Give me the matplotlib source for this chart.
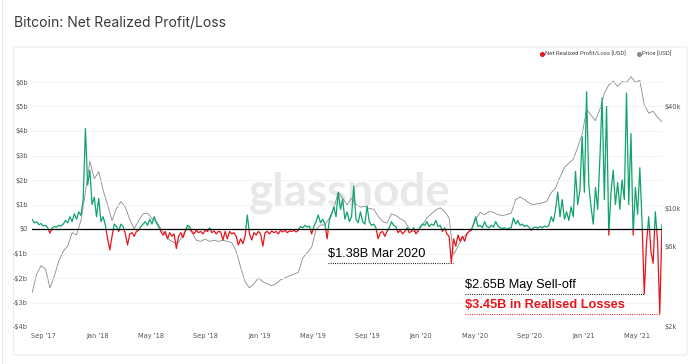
import numpy as np
import pandas as pd
import matplotlib
matplotlib.use("Agg")
import matplotlib.pyplot as plt
import matplotlib.dates as mdates
import matplotlib.transforms as mtransforms
from matplotlib.patches import Rectangle, FancyBboxPatch
from matplotlib.lines import Line2D

# ---------------- data ----------------
nrpl_start = "2017-08-07"   # 5-day sampling
nrpl_values = [
    0.38, 0.25, 0.3, 0.18, 0.22, 0.12, 0.15, 0.05, -0.17, 0.04,
    0.1, 0.08, 0.15, 0.12, 0.2, 0.35, 0.25, 0.5, 0.3, 0.62,
    0.4, 0.7, 0.55, 1.2, 4.1, 1.8, 2.4, 1.0, 1.3, 0.5,
    1.25, 0.3, 0.5, 0.15, -0.4, -0.85, -0.3, 0.2, 0.1, -0.1,
    0.2, 0.1, -0.2, -0.65, -0.2, -0.15, -0.3, -0.1, -0.05, 0.1,
    0.2, 0.3, 0.15, 0.4, 0.2, 0.5, 0.25, 0.1, -0.1, -0.25,
    -0.1, -0.4, -0.15, -0.3, -0.2, -0.8, -0.3, -0.15, -0.35, -0.1,
    0.15, 0.1, -0.1, -0.2, -0.05, -0.15, -0.1, -0.2, -0.05, -0.1,
    0.05, -0.15, -0.08, -0.2, -0.1, -0.12, -0.45, -0.1, -0.4, -0.1,
    -0.2, -0.15, -0.3, -0.65, -0.4, -0.6, -0.3, 0.57, -0.2, -0.45,
    -0.15, -0.25, -0.1, -0.2, -0.7, -0.15, -0.1, -0.2, -0.08, -0.15,
    -0.1, -0.2, -0.05, -0.12, -0.05, -0.15, -0.08, -0.1, -0.05, -0.12,
    -0.05, 0.1, 0.05, 0.15, 0.08, 0.12, -0.2, 0.1, 0.3, 0.57,
    0.25, 0.4, 0.2, -0.4, 0.35, 0.6, 0.9, 0.5, 1.5, 0.8,
    1.2, 0.4, 0.7, 0.3, 0.5, 1.75, 0.4, 0.25, 0.7, 0.3,
    0.2, 0.94, 0.3, 0.15, 0.2, 0.05, -0.4, -0.15, -0.1, -0.3,
    -0.1, 0.05, 0.3, 0.15, 0.1, -0.15, -0.05, -0.2, -0.1, 0.05,
    -0.15, -0.1, 0.05, -0.2, -0.1, 0.1, 0.2, 0.15, 0.3, 0.1,
    0.2, 0.15, 0.35, 0.1, 0.15, -0.1, 0.05, -0.2, -0.3, -1.38,
    -0.4, -0.7, -0.25, -0.5, -0.3, -0.5, -0.2, -0.1, -0.05, 0.2,
    0.5, 0.1, 0.15, 0.05, 0.3, 0.1, 0.05, 0.15, 0.08, 0.3,
    0.12, 0.05, 0.02, 0.05, -0.03, 0.04, 0.05, 0.45, 0.2, 0.35,
    0.15, 0.2, 0.1, 0.15, 0.08, -0.05, 0.05, 0.08, 0.04, 0.1,
    0.05, 0.12, 0.08, 0.15, 0.5, 0.3, 0.8, 1.5, 0.5, 1.2,
    0.4, 0.7, 0.35, 0.9, 0.5, 2.35, 1.0, 1.6, 3.77, 1.5,
    5.6, 1.8, 0.9, 0.2, 1.7, 0.8, 2.9, 5.35, 1.2, 5.0,
    -0.25, 1.5, 2.4, 1.0, 1.9, 0.8, 2.0, 1.2, 5.55, 1.0,
    3.9, -0.25, 1.7, 0.6, 2.5, 0.3, -2.65, -0.6, 0.5, -0.9,
    -1.4, 0.7, -0.5, -3.45, 0.2,
]

price_start = "2017-08-07"  # 10-day sampling
price_values = [
    3200, 4100, 4600, 4400, 3400, 4000, 4900, 5600, 6000, 7200,
    7000, 8500, 12500, 19000, 15000, 16500, 12800, 10500, 8500, 10000,
    11000, 10200, 8600, 7600, 8500, 9300, 9400, 8700, 8400, 7600,
    7000, 6500, 6300, 6300, 7000, 7800, 7200, 6500, 6400, 6600,
    6400, 6500, 6400, 6500, 6400, 6300, 5600, 4500, 3700, 3400,
    3600, 3900, 3700, 3600, 3500, 3600, 3800, 3900, 4000, 4100,
    4200, 5100, 5500, 5900, 7500, 8000, 8000, 8800, 10000, 12500,
    11500, 10500, 11500, 10600, 10200, 10300, 10000, 9900, 9000, 8400,
    8200, 9300, 9100, 8700, 8400, 7600, 7300, 7400, 8000, 8800,
    9300, 9800, 10100, 9600, 8800, 5300, 6000, 6700, 7100, 7500,
    8600, 9500, 9200, 9600, 9500, 9200, 9100, 9200, 9400, 11300,
    11700, 11300, 10800, 10500, 10700, 10800, 11000, 12400, 13200, 15300,
    17500, 18500, 19500, 23000, 27500, 38500, 35500, 33000, 38500, 48000,
    53500, 56500, 52500, 56000, 55500, 60000, 55500, 57000, 41000, 36500,
    37500, 34500, 32500,
]

left_ticks = [-4, -3, -2, -1, 0, 1, 2, 3, 4, 5, 6]
left_ticklabels = ["-$4b", "-$3b", "-$2b", "-$1b", "$0", "$1b", "$2b", "$3b", "$4b", "$5b", "$6b"]
right_ticks = [2000, 6000, 10000, 40000]
right_ticklabels = ["$2k", "$6k", "$10k", "$40k"]
x_tick_dates = ["2017-09-01", "2018-01-01", "2018-05-01", "2018-09-01", "2019-01-01", "2019-05-01",
                "2019-09-01", "2020-01-01", "2020-05-01", "2020-09-01", "2021-01-01", "2021-05-01"]

ann_mar = {"text": "$1.38B Mar 2020", "value": -1.38, "from": "2019-06-04", "to": "2020-03-13"}
ann_may = {"text": "$2.65B May Sell-off", "value": -2.65, "from": "2020-04-09", "to": "2021-05-19"}
ann_jun = {"text": "$3.45B in Realised Losses", "value": -3.45, "from": "2020-04-09", "to": "2021-06-22"}

# ---------------- figure ----------------
GREEN = "#10a36b"
RED = "#e8141c"
GREY = "#8a8a8a"

fig = plt.figure(figsize=(7.0, 3.64), dpi=100)
fig.patch.set_facecolor("white")

W, H = 700.0, 364.0
def fx(px):
    return px / W
def fy(py):
    return 1 - py / H

# card / panel borders
fig.add_artist(Line2D([fx(1.7), fx(1.7)], [0, 1], color="#e6e6e6", lw=0.8, transform=fig.transFigure))
panel = FancyBboxPatch((fx(13.5), fy(355)), fx(687) - fx(13.5), fy(47) - fy(355),
                       boxstyle="round,pad=0,rounding_size=0.004", transform=fig.transFigure,
                       facecolor="white", edgecolor="#ededed", lw=0.8, zorder=-3)
fig.add_artist(panel)

fig.text(fx(14), fy(23), "Bitcoin: Net Realized Profit/Loss", fontsize=10, family="Inter",
         color="#3a3a3a", va="center", ha="left")

# watermark
fig.text(fx(350), fy(193), "glassnode", fontsize=33, family="Lato", fontweight="bold",
         color="#e8e8e8", ha="center", va="center", zorder=-2)

# legend
fig.add_artist(Line2D([fx(541.7)], [fy(54)], marker="o", ms=2.6, color=RED, lw=0, transform=fig.transFigure))
fig.text(fx(545), fy(54), "Net Realized Profit/Loss [USD]", fontsize=4.3, family="Roboto",
         color="#444444", va="center", ha="left")
fig.add_artist(Line2D([fx(638.5)], [fy(54)], marker="o", ms=2.6, color=GREY, lw=0, transform=fig.transFigure))
fig.text(fx(642), fy(54), "Price [USD]", fontsize=4.3, family="Roboto",
         color="#444444", va="center", ha="left")

# axes
ax = fig.add_axes([fx(32.2), fy(327), fx(662) - fx(32.2), fy(67) - fy(327)])
ax2 = ax.twinx()
ax.set_zorder(ax2.get_zorder() + 1)
ax.patch.set_visible(False)
ax2.patch.set_visible(False)

nrpl_dates = pd.date_range(nrpl_start, periods=len(nrpl_values), freq="5D")
price_dates = pd.date_range(price_start, periods=len(price_values), freq="10D")
nrpl = np.array(nrpl_values)

# price
ax2.plot(price_dates, price_values, color=GREY, lw=0.6)
ax2.set_yscale("log")
ax2.set_ylim(2000, 2000 * 10 ** (260 / 169.5))
ax2.set_yticks(right_ticks)
ax2.set_yticklabels(right_ticklabels)
ax2.yaxis.set_minor_locator(matplotlib.ticker.NullLocator())
ax2.tick_params(axis="y", length=0, pad=1.5, labelsize=4.8, labelcolor="#555555")

# NRPL green/red via clipping
blend = mtransforms.blended_transform_factory(ax.transAxes, ax.transData)
l_pos, = ax.plot(nrpl_dates, nrpl, color=GREEN, lw=0.9, zorder=3)
l_neg, = ax.plot(nrpl_dates, nrpl, color=RED, lw=0.9, zorder=3)
clip_pos = Rectangle((0, 0), 1, 100, transform=blend)
clip_neg = Rectangle((0, -100), 1, 100, transform=blend)
l_pos.set_clip_path(clip_pos)
l_neg.set_clip_path(clip_neg)
ax.axhline(0, color="black", lw=0.9, zorder=4)

ax.set_ylim(-4, (229 - 67) / 24.5)
ax.set_xlim(nrpl_dates[0], nrpl_dates[-1])
ax.set_yticks(left_ticks)
ax.set_yticklabels(left_ticklabels)
ax.tick_params(axis="y", length=0, pad=3, labelsize=4.8, labelcolor="#555555")
ax.grid(axis="y", color="#f1f1f1", lw=0.6)
ax.set_axisbelow(True)

ax.set_xticks(pd.to_datetime(x_tick_dates))
ax.xaxis.set_major_formatter(mdates.DateFormatter("%b '%y"))
ax.tick_params(axis="x", length=0, pad=4, labelsize=4.8, labelcolor="#555555")
ax2.tick_params(axis="x", length=0)

for a in (ax, ax2):
    for s in a.spines.values():
        s.set_visible(False)

# annotations
for ann, col, bold in ((ann_mar, "black", False), (ann_may, "black", False), (ann_jun, RED, True)):
    x0 = pd.Timestamp(ann["from"])
    x1 = pd.Timestamp(ann["to"])
    ax.plot([x0, x1], [ann["value"], ann["value"]], color=col, lw=0.8,
            linestyle=(0, (0.8, 1.2)), zorder=5)
    ax.text(x0, ann["value"] + 0.12, ann["text"], color=col, fontsize=9.2,
            family="Liberation Sans", fontweight="bold" if bold else "normal",
            ha="left", va="bottom", zorder=6)

fig.savefig("out.png", dpi=100, facecolor="white")
